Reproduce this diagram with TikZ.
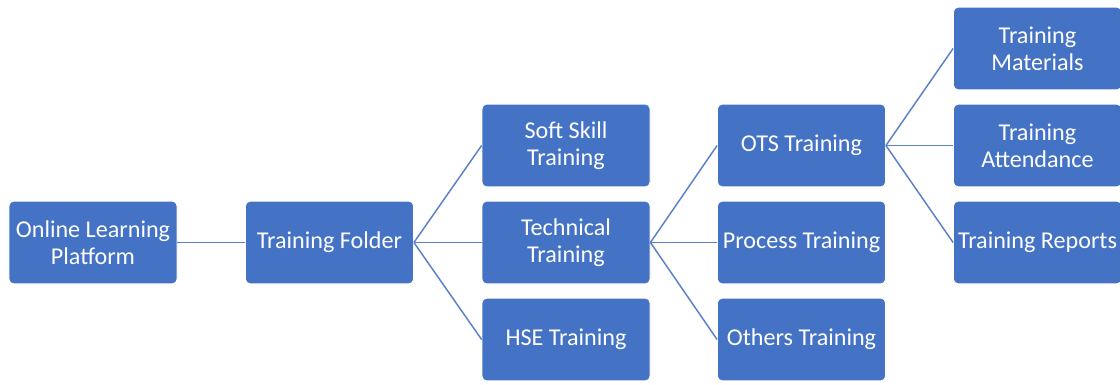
\documentclass[tikz,border=0pt]{standalone}
\usepackage{fontspec}
\setmainfont{Carlito}
\definecolor{boxblue}{HTML}{4472C4}
\definecolor{linkblue}{HTML}{5A80C8}
\begin{document}
\begin{tikzpicture}[x=0.75pt,y=-0.75pt,
  item/.style={draw=white, line width=0.6pt, fill=boxblue, rounded corners=3.5pt,
    minimum width=126pt, minimum height=62pt, inner sep=1pt,
    text=white, align=center, font=\fontsize{18.1}{20.5}\selectfont},
  link/.style={draw=linkblue, line width=1.1pt}]
\useasboundingbox (0,0) rectangle (1120,385);
% level 1
\node[item] (olp) at (93,242.5) {Online Learning\\Platform};
% level 2
\node[item] (folder) at (329.5,242.5) {Training Folder};
% level 3
\node[item] (soft) at (566,145.5) {Soft Skill\\Training};
\node[item] (tech) at (566,242.5) {Technical\\Training};
\node[item] (hse) at (566,339.5) {HSE Training};
% level 4
\node[item] (ots) at (801.5,145.5) {OTS Training};
\node[item] (proc) at (801.5,242.5) {Process Training};
\node[item] (others) at (801.5,339.5) {Others Training};
% level 5
\node[item] (mat) at (1037.5,48.5) {Training\\Materials};
\node[item] (att) at (1037.5,145.5) {Training\\Attendance};
\node[item] (rep) at (1037.5,242.5) {Training Reports};
% connectors
\draw[link] (olp.east) -- (folder.west);
\foreach \c in {soft,tech,hse} \draw[link] (folder.east) -- (\c.west);
\foreach \c in {ots,proc,others} \draw[link] (tech.east) -- (\c.west);
\foreach \c in {mat,att,rep} \draw[link] (ots.east) -- (\c.west);
\end{tikzpicture}
\end{document}
